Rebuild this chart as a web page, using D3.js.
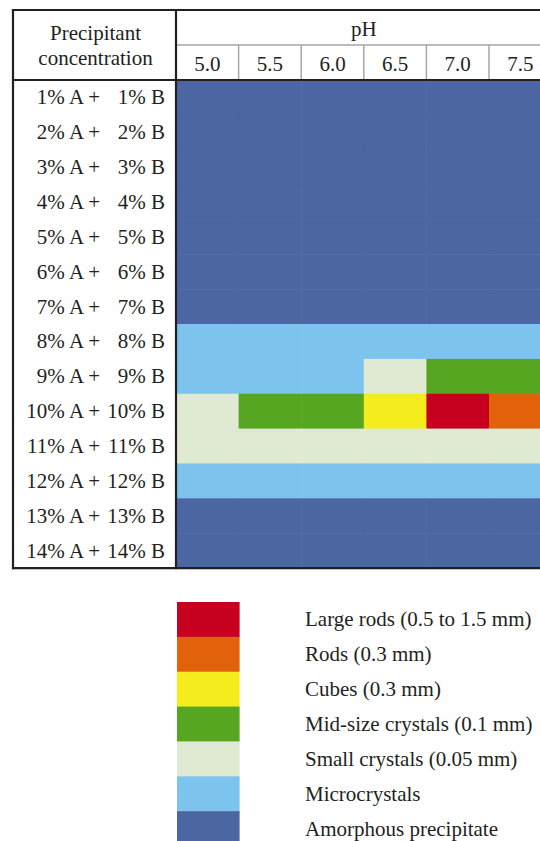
<!DOCTYPE html>
<html>
<head>
<meta charset="utf-8">
<script src="https://cdn.jsdelivr.net/npm/d3@7"></script>
<style>
  body { margin: 0; background: #fff; }
  text { font-family: "Liberation Serif", "Times New Roman", serif; fill: #231f20; }
</style>
</head>
<body>
<div id="chart"></div>
<script>
const phLabels = ["5.0", "5.5", "6.0", "6.5", "7.0", "7.5"];
const concentrations = [1, 2, 3, 4, 5, 6, 7, 8, 9, 10, 11, 12, 13, 14];

// legend order, top to bottom
const categories = [
    "Large rods (0.5 to 1.5 mm)",
    "Rods (0.3 mm)",
    "Cubes (0.3 mm)",
    "Mid-size crystals (0.1 mm)",
    "Small crystals (0.05 mm)",
    "Microcrystals",
    "Amorphous precipitate"
];
const catColors = ["#c8001f", "#e2620b", "#f5ec1d", "#56a622", "#e0e9d2", "#7cc3ee", "#4c65a3"];

// short codes per cell, one row per concentration, one entry per pH
const AM = "Amorphous precipitate", MI = "Microcrystals", SM = "Small crystals (0.05 mm)",
      MD = "Mid-size crystals (0.1 mm)", CU = "Cubes (0.3 mm)", RO = "Rods (0.3 mm)",
      LR = "Large rods (0.5 to 1.5 mm)";
const results = [
    [AM, AM, AM, AM, AM, AM],
    [AM, AM, AM, AM, AM, AM],
    [AM, AM, AM, AM, AM, AM],
    [AM, AM, AM, AM, AM, AM],
    [AM, AM, AM, AM, AM, AM],
    [AM, AM, AM, AM, AM, AM],
    [AM, AM, AM, AM, AM, AM],
    [MI, MI, MI, MI, MI, MI],
    [MI, MI, MI, SM, MD, MD],
    [SM, MD, MD, CU, LR, RO],
    [SM, SM, SM, SM, SM, SM],
    [MI, MI, MI, MI, MI, MI],
    [AM, AM, AM, AM, AM, AM],
    [AM, AM, AM, AM, AM, AM]
];

const width = 540, height = 841;
const tableLeft = 13, tableTop = 10, labelRight = 176, headTop = 45, headBottom = 80, rowStep = 34.86;
const fs = 21;

const cells = [];
results.forEach((row, i) => row.forEach((cat, j) => {
    cells.push({ conc: concentrations[i], ph: phLabels[j], cat: cat });
}));

let svg = d3.select("#chart")
    .append("svg")
    .attr("width", width)
    .attr("height", height);

let x = d3.scaleBand()
    .domain(phLabels)
    .range([labelRight, labelRight + 62.6 * phLabels.length]);

let y = d3.scaleBand()
    .domain(concentrations)
    .range([headBottom, headBottom + rowStep * concentrations.length]);

let color = d3.scaleOrdinal()
    .domain(categories)
    .range(catColors);

const tableBottom = y.range()[1];

// colored cells
svg.append("g")
    .selectAll("rect")
    .data(cells)
    .join("rect")
    .attr("x", d => x(d.ph))
    .attr("y", d => y(d.conc))
    .attr("width", x.bandwidth() + 0.5)
    .attr("height", y.bandwidth() + 0.5)
    .attr("fill", d => color(d.cat));

// header column separators (gray)
svg.append("g")
    .selectAll("line")
    .data(phLabels.slice(1))
    .join("line")
    .attr("x1", d => x(d)).attr("x2", d => x(d))
    .attr("y1", headTop).attr("y2", headBottom)
    .attr("stroke", "#a6a6a6").attr("stroke-width", 1.5);

svg.append("line")
    .attr("x1", labelRight).attr("x2", width)
    .attr("y1", headTop).attr("y2", headTop)
    .attr("stroke", "#a6a6a6").attr("stroke-width", 1.5);

// black frame lines
const frame = [
    [tableLeft, tableTop, width, tableTop],
    [tableLeft, headBottom, width, headBottom],
    [tableLeft, tableBottom, width, tableBottom],
    [tableLeft, tableTop, tableLeft, tableBottom],
    [labelRight, tableTop, labelRight, tableBottom]
];
svg.append("g")
    .selectAll("line")
    .data(frame)
    .join("line")
    .attr("x1", d => d[0]).attr("y1", d => d[1])
    .attr("x2", d => d[2]).attr("y2", d => d[3])
    .attr("stroke", "#231f20").attr("stroke-width", 2.2)
    .attr("stroke-linecap", "square");

// header texts
svg.append("text")
    .attr("x", (tableLeft + labelRight) / 2 + 1).attr("y", 40)
    .attr("text-anchor", "middle").attr("font-size", fs)
    .text("Precipitant");
svg.append("text")
    .attr("x", (tableLeft + labelRight) / 2 + 1).attr("y", 65)
    .attr("text-anchor", "middle").attr("font-size", fs)
    .text("concentration");
svg.append("text")
    .attr("x", (x.range()[0] + x.range()[1]) / 2).attr("y", 36)
    .attr("text-anchor", "middle").attr("font-size", fs)
    .text("pH");

svg.append("g")
    .selectAll("text")
    .data(phLabels)
    .join("text")
    .attr("x", d => x(d) + x.bandwidth() / 2)
    .attr("y", 71)
    .attr("text-anchor", "middle").attr("font-size", fs)
    .text(d => d);

// row labels: "N% A +" and "N% B" right-aligned separately
let rowLab = svg.append("g")
    .selectAll("g")
    .data(concentrations)
    .join("g")
    .attr("transform", d => `translate(0,${y(d) + y.bandwidth() / 2 + 7})`);

rowLab.append("text")
    .attr("x", 100).attr("text-anchor", "end").attr("font-size", fs)
    .text(d => `${d}% A +`);
rowLab.append("text")
    .attr("x", 165).attr("text-anchor", "end").attr("font-size", fs)
    .text(d => `${d}% B`);

// legend
let ly = d3.scaleBand()
    .domain(categories)
    .range([602, 602 + rowStep * categories.length]);

let leg = svg.append("g")
    .selectAll("g")
    .data(categories)
    .join("g");

leg.append("rect")
    .attr("x", x(phLabels[0]) + 1)
    .attr("y", d => ly(d))
    .attr("width", x.bandwidth())
    .attr("height", ly.bandwidth() + 0.5)
    .attr("fill", d => color(d));

leg.append("text")
    .attr("x", 305)
    .attr("y", d => ly(d) + ly.bandwidth() / 2 + 7)
    .attr("font-size", fs)
    .text(d => d);
</script>
</body>
</html>
